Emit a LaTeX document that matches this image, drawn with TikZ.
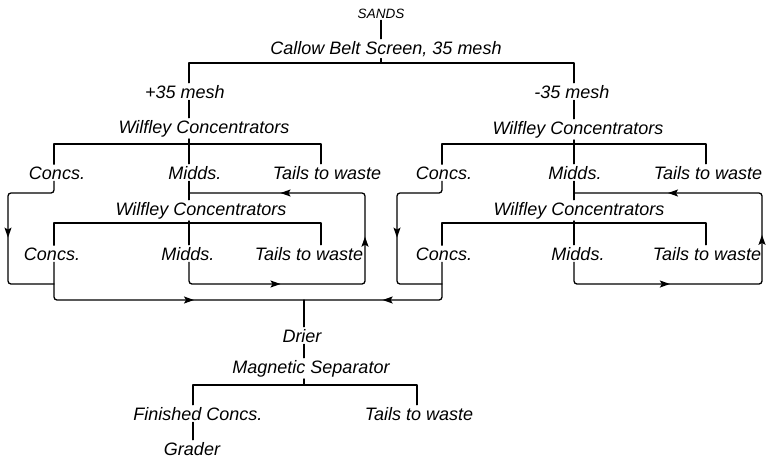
\documentclass[tikz,border=0pt]{standalone}
\usepackage{fontspec}
\setmainfont{Liberation Sans}
\usetikzlibrary{arrows.meta,decorations.markings}
\begin{document}
\begin{tikzpicture}[x=1pt,y=-1pt,
  lbl/.style={anchor=base,inner sep=2pt,font=\itshape\fontsize{18}{21}\selectfont},
  smalllbl/.style={anchor=base,inner sep=2pt,font=\itshape\fontsize{13.5}{15}\selectfont},
  flow/.style={line width=1.3pt,line cap=round,line join=round},
  loopline/.style={flow,rounded corners=3pt},
  midarrow/.style={line width=1.3pt,decoration={markings,mark=at position #1 with {\arrow{Stealth[length=10pt,width=7pt,inset=2pt]}}},postaction={decorate}}]
\useasboundingbox (0,0) rectangle (769,459);

% ---------- nodes ----------
\node[smalllbl] (sands) at (381,18) {SANDS};
\node[lbl] (callow) at (386,54) {Callow Belt Screen, 35 mesh};
\node[lbl] (plus) at (185,98) {+35 mesh};
\node[lbl] (minus) at (572,98) {-35 mesh};
\node[lbl] (wilA) at (204,133) {Wilfley Concentrators};
\node[lbl] (wilB) at (578,134) {Wilfley Concentrators};
\node[lbl] (concsA) at (57,179) {Concs.};
\node[lbl] (middsA) at (195,179) {Midds.};
\node[lbl] (tailsA) at (327,179) {Tails to waste};
\node[lbl] (concsB) at (444,179) {Concs.};
\node[lbl] (middsB) at (575,179) {Midds.};
\node[lbl] (tailsB) at (708,179) {Tails to waste};
\node[lbl] (wilC) at (201,215) {Wilfley Concentrators};
\node[lbl] (wilD) at (579,215) {Wilfley Concentrators};
\node[lbl] (concsC) at (52,260) {Concs.};
\node[lbl] (middsC) at (188,260) {Midds.};
\node[lbl] (tailsC) at (309,260) {Tails to waste};
\node[lbl] (concsD) at (444,260) {Concs.};
\node[lbl] (middsD) at (578,260) {Midds.};
\node[lbl] (tailsD) at (707,260) {Tails to waste};
\node[lbl] (drier) at (302,342) {Drier};
\node[lbl] (magsep) at (311,373) {Magnetic Separator};
\node[lbl] (finished) at (198,420) {Finished Concs.};
\node[lbl] (tailsE) at (419,420) {Tails to waste};
\node[lbl] (grader) at (192,455) {Grader};

% ---------- junction coordinates ----------
\coordinate (sM) at (381,63);
\coordinate (sL) at (189,63);
\coordinate (sR) at (574,63);
\coordinate (hA1) at (54,144);  \coordinate (hAm) at (189,144); \coordinate (hA2) at (321,144);
\coordinate (hB1) at (442,144); \coordinate (hBm) at (574,144); \coordinate (hB2) at (706,144);
\coordinate (hC1) at (54,223);  \coordinate (hCm) at (189,223); \coordinate (hC2) at (321,223);
\coordinate (hD1) at (442,223); \coordinate (hDm) at (574,223); \coordinate (hD2) at (706,223);
\coordinate (lA1) at (54,193);  \coordinate (lA2) at (8,193);   \coordinate (lA3) at (8,284);   \coordinate (lA4) at (54,284);
\coordinate (lB1) at (442,193); \coordinate (lB2) at (397,193); \coordinate (lB3) at (397,284); \coordinate (lB4) at (442,284);
\coordinate (rA1) at (189,284); \coordinate (rA2) at (365,284); \coordinate (rA3) at (365,193); \coordinate (rA4) at (189,193);
\coordinate (rB1) at (574,284); \coordinate (rB2) at (762,284); \coordinate (rB3) at (762,193); \coordinate (rB4) at (574,193);
\coordinate (bA) at (54,300); \coordinate (bB) at (442,300); \coordinate (J) at (304,300);
\coordinate (sp) at (304,385); \coordinate (spL) at (193,385); \coordinate (spR) at (417,385);

% ---------- connectors ----------
\draw[flow] (sands.south) -- (sands.south |- callow.north);
\draw[flow] (callow.south -| sM) -- (sM);
\draw[flow] (plus.north -| sL) -- (sL) -- (sR) -- (minus.north -| sR);
\draw[flow] (plus.south -| sL) -- (wilA.north -| sL);
\draw[flow] (minus.south -| sR) -- (wilB.north -| sR);
% left first table
\draw[flow] (wilA.south -| hAm) -- (hAm);
\draw[flow] (concsA.north -| hA1) -- (hA1) -- (hA2) -- (tailsA.north -| hA2);
\draw[flow] (hAm) -- (middsA.north -| hAm);
% right first table
\draw[flow] (wilB.south -| hBm) -- (hBm);
\draw[flow] (concsB.north -| hB1) -- (hB1) -- (hB2) -- (tailsB.north -| hB2);
\draw[flow] (hBm) -- (middsB.north -| hBm);
% to second tables
\draw[flow] (middsA.south -| hAm) -- (wilC.north -| hAm);
\draw[flow] (middsB.south -| hBm) -- (wilD.north -| hBm);
\draw[flow] (wilC.south -| hCm) -- (middsC.north -| hCm);
\draw[flow] (wilD.south -| hDm) -- (middsD.north -| hDm);
\draw[flow] (concsC.north -| hC1) -- (hC1) -- (hC2) -- (tailsC.north -| hC2);
\draw[flow] (concsD.north -| hD1) -- (hD1) -- (hD2) -- (tailsD.north -| hD2);
% concentrate loops
\draw[loopline] (concsA.south -| lA1) -- (lA1) -- (lA2) -- (lA3) -- (lA4);
\draw[loopline] (concsB.south -| lB1) -- (lB1) -- (lB2) -- (lB3) -- (lB4);
% middlings recycle
\draw[loopline] (middsC.south -| rA1) -- (rA1) -- (rA2) -- (rA3) -- (rA4);
\draw[loopline] (middsD.south -| rB1) -- (rB1) -- (rB2) -- (rB3) -- (rB4);
% collecting line
\draw[loopline] (concsC.south -| bA) -- (bA) -- (bB) -- (concsD.south -| bB);
\draw[flow] (J) -- (drier.north -| J);
\draw[flow] (drier.south -| J) -- (magsep.north -| J);
\draw[flow] (magsep.south -| sp) -- (sp);
\draw[flow] (finished.north -| spL) -- (spL) -- (spR) -- (tailsE.north -| spR);
\draw[flow] (finished.south -| spL) -- (grader.north -| spL);

% ---------- arrowheads ----------
\path[midarrow=0.49] (lA2) -- (lA3);
\path[midarrow=0.49] (lB2) -- (lB3);
\path[midarrow=0.52] (rA1) -- (rA2);
\path[midarrow=0.52] (rA2) -- (rA3);
\path[midarrow=0.48] (rA3) -- (rA4);
\path[midarrow=0.51] (rB1) -- (rB2);
\path[midarrow=0.54] (rB2) -- (rB3);
\path[midarrow=0.50] (rB3) -- (rB4);
\path[midarrow=0.56] (bA) -- (J);
\path[midarrow=0.43] (bB) -- (J);
\end{tikzpicture}
\end{document}
